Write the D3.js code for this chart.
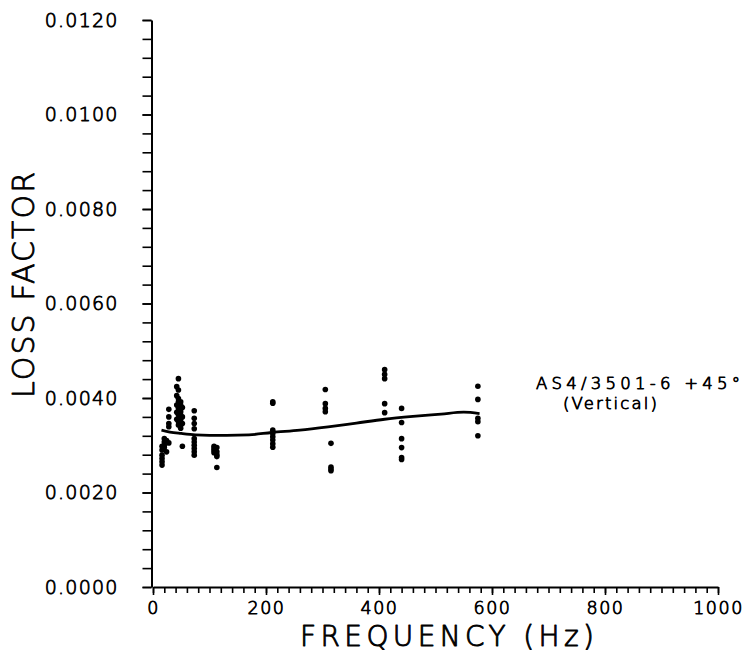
<!DOCTYPE html>
<html>
<head>
<meta charset="utf-8">
<script src="https://cdn.jsdelivr.net/npm/d3@7"></script>
<style>
  html, body { margin: 0; padding: 0; background: #fff; }
  svg { display: block; }
  text { font-family: "DejaVu Sans", "Liberation Sans", sans-serif; fill: #000; }
</style>
</head>
<body>
<svg id="chart" width="748" height="660"></svg>
<script>
// ---- data ----
const xTickValues = [0, 200, 400, 600, 800, 1000];
const xTickLabels = ["0", "200", "400", "600", "800", "1000"];
const yTickValues = [0, 0.002, 0.004, 0.006, 0.008, 0.010, 0.012];
const yTickLabels = ["0.0000", "0.0020", "0.0040", "0.0060", "0.0080", "0.0100", "0.0120"];

// measured points: frequency (Hz) and loss factor
const pointFreq = [
  16,16,16,16,16,16,
  20,20,20,20,
  24,24,
  28,28,28,28,28,
  42,42,42,42,42,
  45,45,45,45,45,45,45,45,
  49,49,49,49,49,49,49,49,49,
  52,52,52,52,
  73,73,73,73,73,73,73,73,73,73,
  108,108,108,108,
  113,113,113,113,113,
  212,212,212,212,212,212,212,212,
  305,305,305,305,
  315,315,315,315,
  410,410,410,410,410,
  440,440,440,440,440,440,
  575,575,575,575,575
];
const pointLoss = [
  0.00298,0.00290,0.00279,0.00272,0.00265,0.00258,
  0.00314,0.00307,0.00300,0.00295,
  0.00310,0.00286,
  0.00376,0.00360,0.00346,0.00339,0.00305,
  0.00424,0.00405,0.00385,0.00370,0.00355,
  0.00441,0.00417,0.00399,0.00392,0.00378,0.00364,0.00350,0.00343,
  0.00392,0.00385,0.00378,0.00371,0.00364,0.00357,0.00350,0.00343,0.00336,
  0.00380,0.00360,0.00346,0.00298,
  0.00373,0.00357,0.00346,0.00335,0.00314,0.00307,0.00300,0.00293,0.00286,0.00279,
  0.00298,0.00293,0.00289,0.00284,
  0.00295,0.00286,0.00280,0.00276,0.00253,
  0.00392,0.00389,0.00332,0.00325,0.00318,0.00311,0.00303,0.00296,
  0.00418,0.00388,0.00378,0.00371,
  0.00304,0.00254,0.00250,0.00246,
  0.00460,0.00450,0.00441,0.00388,0.00369,
  0.00378,0.00348,0.00314,0.00295,0.00274,0.00270,
  0.00425,0.00397,0.00357,0.00350,0.00320
];

// fitted curve
const curveFreq = [15, 30, 50, 75, 100, 130, 170, 210, 260, 310, 360, 410, 460, 510, 550, 578];
const curveLoss = [0.00332, 0.00328, 0.00325, 0.00322, 0.00321, 0.00321, 0.00322, 0.00327,
                   0.00332, 0.00339, 0.00347, 0.00355, 0.00361, 0.00366, 0.00370, 0.00367];

const annotationLines = ["AS4/3501-6  +45°", "(Vertical)"];
const xTitle = "FREQUENCY (Hz)";
const yTitle = "LOSS FACTOR";

// ---- drawing ----
const svg = d3.select("#chart");
const x = d3.scaleLinear().domain([0, 1000]).range([153, 718]);
const y = d3.scaleLinear().domain([0, 0.012]).range([587, 20]);

// minor ticks
const xMinor = d3.range(0, 1000 + 1, 20);
const yMinor = d3.range(0, 31).map(i => i * 0.0004);

function thinText(sel, strokeW) {
  sel.attr("font-weight", 200)
     .attr("stroke", "#000")
     .attr("stroke-width", strokeW)
     .attr("stroke-linejoin", "round");
}

// x axis: ticks pointing down
const xAxisG = svg.append("g").attr("transform", `translate(0,${y(0)})`);
xAxisG.append("g").call(
  d3.axisBottom(x).tickValues(xMinor).tickSize(6).tickFormat("")
).call(g => g.select(".domain").remove());
xAxisG.append("g").call(
  d3.axisBottom(x).tickValues(xTickValues).tickSize(8).tickSizeOuter(0)
    .tickFormat((d, i) => xTickLabels[i]).tickPadding(7)
);
xAxisG.selectAll("line").attr("stroke", "#000").attr("stroke-width", 1.6);
xAxisG.selectAll(".domain").attr("stroke", "#000").attr("stroke-width", 2);
xAxisG.selectAll("text")
  .attr("font-size", 17.5).attr("letter-spacing", 1.5).attr("dy", "0.71em")
  .call(thinText, 0.8);

// y axis: ticks pointing left
const yAxisG = svg.append("g").attr("transform", `translate(${x(0) - 1.5},0)`);
yAxisG.append("g").call(
  d3.axisLeft(y).tickValues(yMinor).tickSize(9).tickFormat("")
).call(g => g.select(".domain").remove());
yAxisG.append("g").call(
  d3.axisLeft(y).tickValues(yTickValues).tickSize(9).tickSizeOuter(0)
    .tickFormat((d, i) => yTickLabels[i]).tickPadding(24)
);
yAxisG.selectAll("line").attr("stroke", "#000").attr("stroke-width", 1.6);
yAxisG.selectAll(".domain").attr("stroke", "#000").attr("stroke-width", 2);
yAxisG.selectAll("text")
  .attr("font-size", 19).attr("letter-spacing", 1.2)
  .call(thinText, 0.8);

// curve
const line = d3.line()
  .x((d, i) => x(curveFreq[i]))
  .y((d, i) => y(curveLoss[i]))
  .curve(d3.curveMonotoneX);
svg.append("path")
  .datum(curveFreq)
  .attr("d", line)
  .attr("fill", "none")
  .attr("stroke", "#000")
  .attr("stroke-width", 2.8);

// points
svg.append("g").selectAll("circle")
  .data(pointFreq)
  .join("circle")
  .attr("cx", (d, i) => x(d))
  .attr("cy", (d, i) => y(pointLoss[i]))
  .attr("r", 2.8)
  .attr("fill", "#000");

// axis titles
svg.append("text")
  .attr("x", 447).attr("y", 646)
  .attr("text-anchor", "middle")
  .attr("font-size", 28)
  .attr("textLength", 294)
  .attr("lengthAdjust", "spacing")
  .call(thinText, 0.9)
  .text(xTitle);

svg.append("text")
  .attr("transform", "translate(34,285) rotate(-90)")
  .attr("text-anchor", "middle")
  .attr("font-size", 30)
  .attr("textLength", 226)
  .attr("lengthAdjust", "spacing")
  .call(thinText, 0.9)
  .text(yTitle);

// annotation
svg.append("text")
  .attr("x", 536).attr("y", 389)
  .attr("font-size", 16.5)
  .attr("textLength", 204)
  .attr("lengthAdjust", "spacing")
  .call(thinText, 0.8)
  .text(annotationLines[0]);
svg.append("text")
  .attr("x", 563).attr("y", 408.5)
  .attr("font-size", 16.5)
  .attr("textLength", 94)
  .attr("lengthAdjust", "spacing")
  .call(thinText, 0.8)
  .text(annotationLines[1]);
</script>
</body>
</html>
